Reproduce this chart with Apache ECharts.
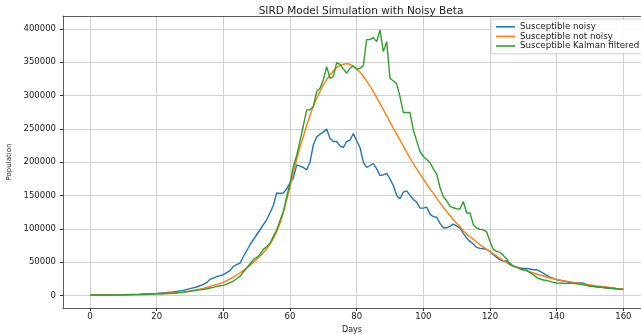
<!DOCTYPE html>
<html>
<head>
<meta charset="utf-8">
<script src="https://cdn.jsdelivr.net/npm/echarts@6/dist/echarts.min.js"></script>
<style>
    html, body { margin: 0; padding: 0; background: #fff; }
    #chart { width: 641px; height: 334px; }
</style>
</head>
<body>
<div id="chart"></div>
<script>
// days of the simulation (x values shared by all three lines)
const days = [0, 5, 10, 15, 20, 25, 28, 30, 32, 34, 35, 36, 37, 38, 39,
    40, 41, 42, 43, 44, 45, 46, 47, 48, 49,
    50, 51, 52, 53, 54, 55, 56, 57, 58, 59,
    60, 61, 62, 63, 64, 65, 66, 67, 68, 69,
    70, 71, 72, 73, 74, 75, 76, 77, 78, 79,
    80, 81, 82, 83, 84, 85, 86, 87, 88, 89,
    90, 91, 92, 93, 94, 95, 96, 97, 98, 99,
    100, 101, 102, 103, 104, 105, 106, 107, 108, 109,
    110, 111, 112, 113, 114, 115, 116, 117, 118, 119,
    120, 121, 122, 123, 124, 125, 126, 127, 128, 129,
    130, 131, 132, 133, 134, 135, 136, 137, 138, 139, 140,
    142, 145, 148, 150, 152, 155, 158, 160];

// Susceptible noisy
const noisy = [500, 600, 1000, 1800, 3000, 5000, 7500, 10000, 12500, 16500, 19000, 24000, 26000, 28000, 29500,
    31000, 34000, 37000, 43500, 46000, 48500, 58000, 67000, 76000, 83500,
    91000, 98500, 106000, 113500, 124000, 135000, 153600, 153000, 153600, 160000,
    169000, 176000, 196000, 194000, 192000, 188500, 200000, 226000, 238000, 242000,
    245000, 249600, 236000, 231000, 231000, 224000, 222000, 231000, 233000, 243000,
    232000, 222000, 200000, 192000, 195000, 198000, 190000, 180000, 181000, 183000,
    175000, 165000, 150000, 145000, 155000, 157000, 150000, 144000, 140000, 131000,
    131000, 132600, 122000, 118000, 117500, 108000, 101500, 101500, 104000, 107000,
    104000, 101000, 93000, 86000, 81000, 77000, 72000, 70500, 70000, 69000,
    66000, 61000, 57000, 53500, 52000, 51500, 48000, 44000, 42500, 41000,
    40500, 40500, 39500, 38500, 38500, 36000, 33500, 30000, 27500, 25500, 23500,
    21500, 19000, 18500, 14000, 13000, 11000, 10000, 9500];

// Susceptible not noisy
const notNoisy = [500, 600, 900, 1400, 2300, 3800, 5200, 6500, 8500, 10500, 12000, 13500, 15000, 16500, 18000,
    19500, 22000, 24500, 27500, 30500, 34000, 37500, 41000, 45000, 49500,
    54000, 59000, 64000, 70000, 77000, 85000, 96000, 108000, 124000, 143000,
    163000, 184000, 204000, 222000, 239000, 255000, 270000, 284000, 296000, 306000,
    316000, 324000, 331000, 337000, 342000, 345000, 347000, 348000, 347000, 344000,
    340000, 335000, 329000, 322000, 314000, 306000, 297000, 288000, 279000, 270000,
    260000, 251000, 242000, 233000, 224000, 215000, 206000, 198000, 190000, 182000,
    175000, 167000, 160000, 153000, 146000, 139000, 132000, 126000, 120000, 114000,
    108000, 103000, 97000, 92000, 88000, 84000, 80000, 76000, 72500, 69000,
    66000, 62500, 59000, 55500, 52000, 49000, 46000, 44000, 42000, 40000,
    38000, 36500, 35000, 33500, 32000, 30500, 29000, 27500, 26000, 25000, 24000,
    22000, 19500, 17000, 15500, 14000, 12500, 10500, 9500];

// Susceptible Kalman filtered
const kalman = [500, 500, 800, 1200, 2000, 3200, 4500, 6000, 7500, 9000, 10000, 11000, 12000, 13500, 14500,
    15000, 17000, 19000, 21500, 25000, 28500, 35000, 41000, 47000, 53500,
    57000, 61000, 69000, 73000, 78000, 88500, 98000, 112000, 126000, 148000,
    168000, 193500, 210000, 232000, 255000, 278500, 278500, 283500, 306000, 311000,
    323500, 343500, 326000, 328500, 349500, 347000, 340000, 333600, 341000, 344500,
    339600, 341000, 345000, 384000, 384000, 387000, 381000, 398500, 366000, 381000,
    326000, 322000, 318000, 298000, 274500, 274500, 274500, 248000, 232000, 216000,
    208500, 204000, 199500, 190000, 182000, 162000, 148000, 142000, 134000, 131500,
    130000, 129600, 141000, 123600, 123600, 106000, 101000, 99000, 98500, 95000,
    81000, 69000, 66000, 64500, 60000, 55000, 46000, 44000, 42500, 40000,
    38500, 38000, 34000, 31000, 27000, 24500, 23000, 22500, 21000, 19500, 18600,
    18200, 18000, 16000, 14000, 13000, 11500, 10000, 8600];

// tick labels
const xTicks = [0, 20, 40, 60, 80, 100, 120, 140, 160];
const yTicks = [0, 50000, 100000, 150000, 200000, 250000, 300000, 350000, 400000];

const FONT = "DejaVu Sans";
const TEXT = "#222";
const FRAME = "#333";
const X_MIN = -8.1, X_MAX = 165.3; // right edge of the frame falls outside the picture
const pairs = (ys) => days.map((d, i) => [d, ys[i]]);

const chart = echarts.init(document.getElementById("chart"), null, {renderer: "canvas"});

chart.setOption({
    animation: false,
    backgroundColor: "#fff",
    textStyle: {fontFamily: FONT},
    title: {
        text: "SIRD Model Simulation with Noisy Beta",
        left: 356,
        textAlign: "center",
        top: 1,
        textStyle: {fontFamily: FONT, fontSize: 10.5, fontWeight: "normal", color: TEXT}
    },
    legend: {
        orient: "vertical",
        left: 491,
        top: 19,
        icon: "rect",
        itemWidth: 19,
        itemHeight: 1.6,
        itemGap: 0,
        padding: [3, 8, 3, 5],
        selectedMode: false,
        borderColor: "#cccccc",
        borderWidth: 1,
        borderRadius: 2,
        backgroundColor: "rgba(255,255,255,0.85)",
        textStyle: {fontFamily: FONT, fontSize: 8.7, lineHeight: 9.6, color: TEXT},
        z: 10
    },
    grid: {
        left: 63,
        right: 0,
        top: 16,
        bottom: 26,
        outerBoundsMode: "none",
        containLabel: false
    },
    xAxis: [{
        type: "value",
        min: X_MIN,
        max: X_MAX,
        name: "Days",
        nameLocation: "middle",
        nameGap: 12,
        nameTextStyle: {fontFamily: FONT, fontSize: 8, color: TEXT},
        axisLine: {show: true, onZero: false, lineStyle: {color: FRAME, width: 0.8}},
        axisTick: {show: true, length: 3, customValues: xTicks, lineStyle: {color: FRAME}},
        axisLabel: {customValues: xTicks, margin: 4, fontFamily: FONT, fontSize: 8.5, color: TEXT},
        splitLine: {show: true, lineStyle: {color: "#d0d0d0", width: 1}}
    }, {
        // top edge of the frame
        type: "value",
        position: "top",
        min: X_MIN,
        max: X_MAX,
        axisLine: {show: true, onZero: false, lineStyle: {color: FRAME, width: 0.8}},
        axisTick: {show: false},
        axisLabel: {show: false},
        splitLine: {show: false}
    }],
    yAxis: {
        type: "value",
        min: -19000,
        max: 419500,
        name: "Population",
        nameLocation: "middle",
        nameGap: 43,
        nameTextStyle: {fontFamily: FONT, fontSize: 7, color: TEXT},
        axisLine: {show: true, onZero: false, lineStyle: {color: FRAME, width: 0.8}},
        axisTick: {show: true, length: 3, customValues: yTicks, lineStyle: {color: FRAME}},
        axisLabel: {
            customValues: yTicks,
            margin: 7,
            fontFamily: FONT,
            fontSize: 8.5,
            color: TEXT,
            formatter: (v) => String(v)
        },
        splitLine: {show: true, lineStyle: {color: "#d0d0d0", width: 1}}
    },
    series: [
        {
            name: "Susceptible noisy",
            type: "line",
            data: pairs(noisy),
            showSymbol: false,
            color: "#1f77b4",
            lineStyle: {width: 1.4}
        },
        {
            name: "Susceptible not noisy",
            type: "line",
            data: pairs(notNoisy),
            showSymbol: false,
            color: "#ff7f0e",
            lineStyle: {width: 1.4}
        },
        {
            name: "Susceptible Kalman filtered",
            type: "line",
            data: pairs(kalman),
            showSymbol: false,
            color: "#2ca02c",
            lineStyle: {width: 1.4}
        }
    ]
});
</script>
</body>
</html>
